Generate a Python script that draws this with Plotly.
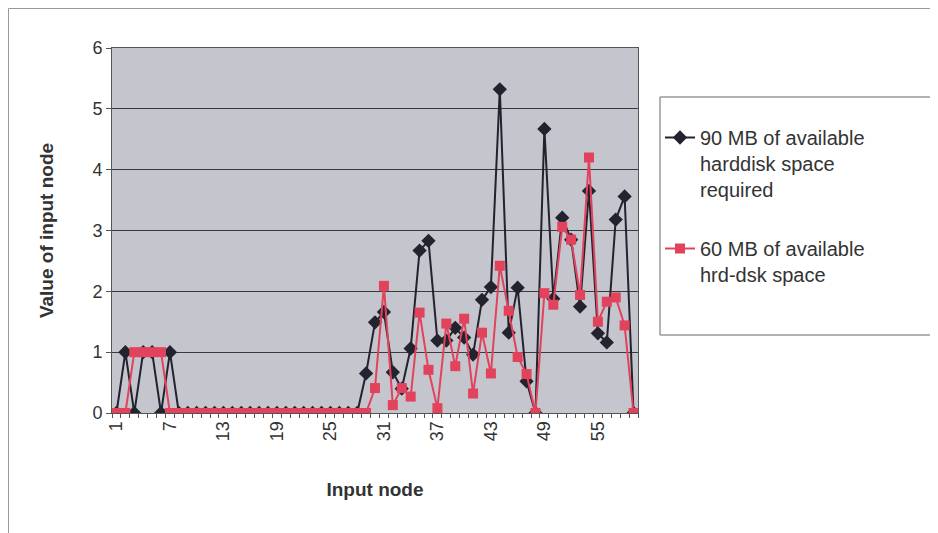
import plotly.graph_objects as go

categories = list(range(1, 60))
tick_labels = ["1", "7", "13", "19", "25", "31", "37", "43", "49", "55"]

series_90mb = [0, 1, 0, 1, 1, 0, 1] + [0] * 21 + [
    0.65, 1.49, 1.66, 0.67, 0.40, 1.06, 2.67, 2.83, 1.19, 1.19,
    1.40, 1.24, 0.96, 1.86, 2.07, 5.32, 1.32, 2.06, 0.52, 0.00,
    4.67, 1.88, 3.21, 2.85, 1.75, 3.65, 1.31, 1.16, 3.18, 3.56, 0.00]

series_60mb = [0, 0, 1, 1, 1, 1] + [0] * 23 + [
    0.41, 2.09, 0.13, 0.41, 0.27, 1.65, 0.71, 0.08, 1.47, 0.77,
    1.55, 0.32, 1.32, 0.65, 2.42, 1.68, 0.92, 0.64, 0.00, 1.97,
    1.78, 3.06, 2.85, 1.94, 4.20, 1.50, 1.83, 1.90, 1.44, 0.00]

name_90 = "90 MB of available<br>harddisk space<br>required"
name_60 = "60 MB of available<br>hrd-dsk space"

# page has an 8px body margin; work in screen coords of the reference
OFF = 8
W, H = 938 - OFF, 533 - OFF
L, R, T, B = 112 - OFF, 938 - 638, 48 - OFF, 533 - 413

fig = go.Figure()
fig.add_trace(go.Scatter(
    x=categories, y=series_90mb, name=name_90, mode="lines+markers",
    legendgroup="g90",
    line=dict(color="#23232f", width=2),
    marker=dict(symbol="diamond", size=11, color="#23232f"),
))
fig.add_trace(go.Scatter(
    x=categories, y=series_60mb, name=name_60, mode="lines+markers",
    legendgroup="g60",
    line=dict(color="#e2425c", width=2),
    marker=dict(symbol="square", size=10, color="#e2425c"),
))

pw = W - L - R
ph = H - T - B
def px_x(p):  # screen x -> paper
    return (p - OFF - L) / pw
def px_y(p):  # screen y -> paper
    return (H - B - (p - OFF)) / ph

fig.update_layout(
    width=W, height=H,
    margin=dict(l=L, r=R, t=T, b=B),
    paper_bgcolor="white",
    plot_bgcolor="#c4c5cd",
    font=dict(family="Liberation Sans, Arial, sans-serif", color="#333333", size=18),
    showlegend=True,
    legend=dict(
        x=px_x(660), y=px_y(118), xanchor="left", yanchor="top",
        bgcolor="rgba(0,0,0,0)", borderwidth=0,
        font=dict(size=20, color="#333333"),
        tracegroupgap=30, itemwidth=30, valign="top",
    ),
    xaxis=dict(
        range=[0.5, 59.5],
        tickmode="array",
        tickvals=[int(t) for t in tick_labels],
        ticktext=tick_labels,
        tickangle=-90,
        ticks="", showgrid=False, zeroline=False,
        showline=True, linecolor="#555555", linewidth=1, mirror=True,
        minor=dict(ticks="outside", tick0=0.5, dtick=1, ticklen=4, tickcolor="#555555", showgrid=False),
        title=dict(text="<b>Input node</b>", font=dict(size=19, color="#333333"), standoff=42),
        tickfont=dict(size=18),
    ),
    yaxis=dict(
        range=[0, 6], dtick=1, tick0=0,
        showgrid=True, gridcolor="#3a3a3a", gridwidth=1,
        zeroline=False,
        showline=True, linecolor="#555555", linewidth=1, mirror=True,
        ticks="outside", ticklen=5, tickcolor="#555555",
        title=dict(text="<b>Value of input node</b>", font=dict(size=19, color="#333333"), standoff=33),
        tickfont=dict(size=18),
    ),
    shapes=[
        dict(type="rect", xref="paper", yref="paper",
             x0=px_x(660), x1=px_x(937), y0=px_y(335), y1=px_y(97),
             line=dict(color="#666666", width=1), fillcolor="rgba(0,0,0,0)"),
        dict(type="rect", xref="paper", yref="paper",
             x0=px_x(8.5), x1=px_x(950), y0=px_y(550), y1=px_y(8.5),
             line=dict(color="#999999", width=1), fillcolor="rgba(0,0,0,0)"),
    ],
)

fig.write_html("out.html")
